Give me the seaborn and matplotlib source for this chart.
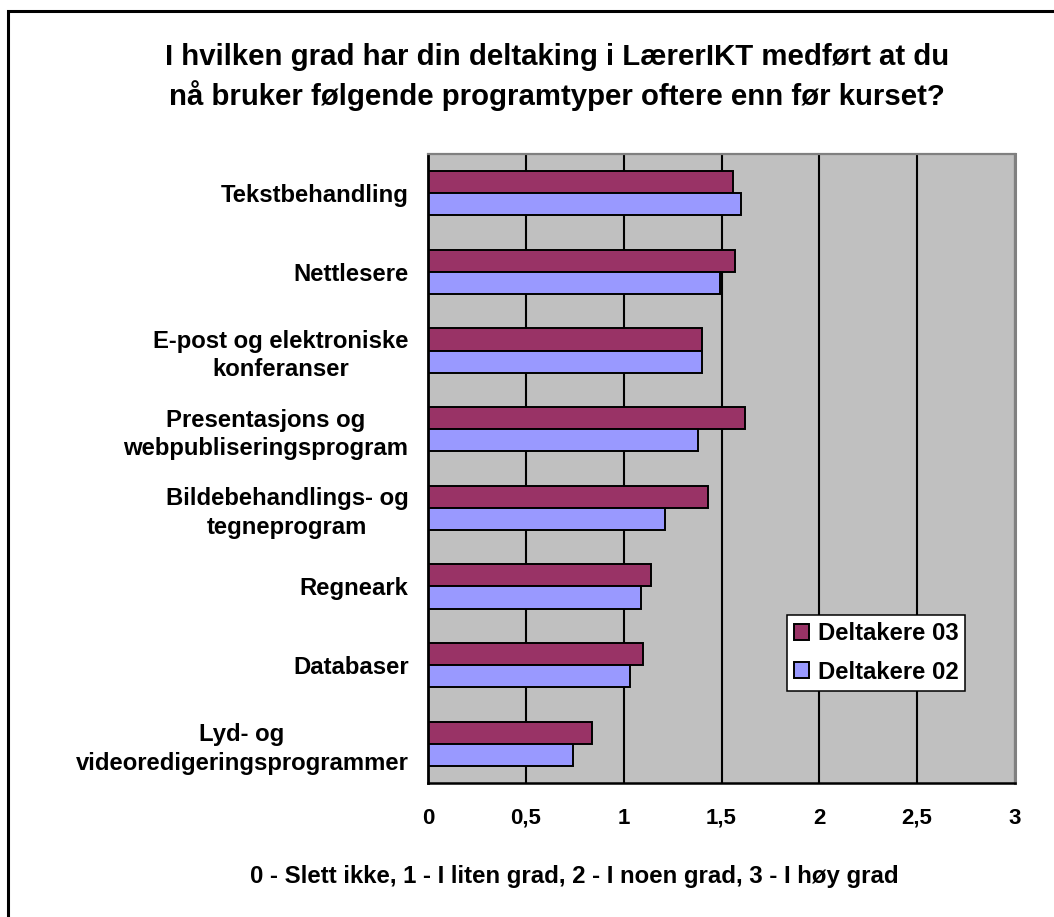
import matplotlib
matplotlib.use("Agg")
import matplotlib.pyplot as plt
from matplotlib.patches import Rectangle
from matplotlib.ticker import FixedLocator
import numpy as np
import pandas as pd
import seaborn as sns

# --- data -------------------------------------------------------------
categories = [
    "Tekstbehandling",
    "Nettlesere",
    "E-post og elektroniske\nkonferanser",
    "Presentasjons og\nwebpubliseringsprogram",
    "Bildebehandlings- og\ntegneprogram",
    "Regneark",
    "Databaser",
    "Lyd- og\nvideoredigeringsprogrammer",
]
series_names = ["Deltakere 03", "Deltakere 02"]
deltakere_03 = [1.56, 1.57, 1.40, 1.62, 1.43, 1.14, 1.10, 0.84]
deltakere_02 = [1.60, 1.49, 1.40, 1.38, 1.21, 1.09, 1.03, 0.74]
x_ticks = [0, 0.5, 1, 1.5, 2, 2.5, 3]
x_tick_labels = ["0", "0,5", "1", "1,5", "2", "2,5", "3"]

title_lines = [
    "I hvilken grad har din deltaking i LærerIKT medført at du",
    "nå bruker følgende programtyper oftere enn før kurset?",
]
x_label = "0 - Slett ikke, 1 - I liten grad, 2 - I noen grad, 3 - I høy grad"

df = pd.DataFrame({
    "kategori": categories * 2,
    "verdi": deltakere_03 + deltakere_02,
    "serie": [series_names[0]] * len(categories) + [series_names[1]] * len(categories),
})

# --- style ------------------------------------------------------------
sns.set_style("white")
plt.rcParams["font.family"] = ["Liberation Sans", "DejaVu Sans"]
plt.rcParams["font.weight"] = "bold"
plt.rcParams["text.color"] = "black"
plt.rcParams["xtick.color"] = "black"
plt.rcParams["ytick.color"] = "black"
plt.rcParams["xtick.labelcolor"] = "black"
plt.rcParams["ytick.labelcolor"] = "black"

W, H = 1054, 917
fig = plt.figure(figsize=(W / 100, H / 100), dpi=100)
fig.patch.set_facecolor("white")

left, right, top, bottom = 428, 1015, 154, 783
ax = fig.add_axes([left / W, 1 - bottom / H, (right - left) / W, (bottom - top) / H])
ax.set_facecolor("#C0C0C0")

sns.barplot(
    data=df, x="verdi", y="kategori", hue="serie",
    hue_order=series_names, order=categories,
    palette=["#993366", "#9999FF"], orient="h",
    width=0.564, saturation=1, edgecolor="black", linewidth=1.4,
    ax=ax, zorder=3,
)

# axes ranges and ticks
ax.set_xlim(0, 3)
ax.set_ylim(len(categories) - 0.5, -0.5)
ax.set_xticks(x_ticks)
ax.set_xticklabels(x_tick_labels, fontsize=16, fontweight="bold", color="black")
ax.tick_params(axis="x", direction="out", length=5.8, width=1.4, color="black",
               labelcolor="black", pad=12)

ax.yaxis.set_minor_locator(FixedLocator(np.arange(-0.5, len(categories), 1.0)))
ax.tick_params(axis="y", which="major", length=0, pad=14, labelcolor="black")
ax.tick_params(axis="y", which="minor", direction="out", length=6.5, width=1.6, color="black")
for lbl in ax.get_yticklabels():
    lbl.set_fontsize(17.2)
    lbl.set_fontweight("bold")
    lbl.set_color("black")
    lbl.set_multialignment("center")
    lbl.set_linespacing(1.3)

ax.set_xlabel("")
ax.set_ylabel("")

# vertical gridlines
ax.grid(axis="x", color="black", linewidth=1.5, zorder=1)
ax.grid(axis="y", visible=False)
ax.set_axisbelow(True)

# spines
ax.spines["left"].set_color("black")
ax.spines["left"].set_linewidth(2.0)
ax.spines["bottom"].set_color("black")
ax.spines["bottom"].set_linewidth(1.8)
ax.spines["top"].set_color("#808080")
ax.spines["top"].set_linewidth(1.6)
ax.spines["right"].set_color("#808080")
ax.spines["right"].set_linewidth(2.2)
for s in ax.spines.values():
    s.set_visible(True)
    s.set_zorder(4)

# legend
handles, labels = ax.get_legend_handles_labels()
leg = ax.legend(
    handles, labels, loc="upper left",
    bbox_to_anchor=(787 / W, 1 - 615 / H), bbox_transform=fig.transFigure,
    frameon=True, fancybox=False, framealpha=1, edgecolor="black",
    borderpad=0.3, borderaxespad=0, handlelength=0.63, handleheight=0.63,
    handletextpad=0.35, labelspacing=0.65,
    prop={"family": "Liberation Sans", "weight": "bold", "size": 17.2},
)
leg.get_frame().set_linewidth(1.1)
leg.set_zorder(6)
for t in leg.get_texts():
    t.set_color("black")
for h in leg.legend_handles:
    h.set_edgecolor("black")
    h.set_linewidth(1.4)

# title and axis caption
fig.text(557 / W, 1 - 65 / H, title_lines[0], ha="center", va="baseline",
         fontsize=21.2, fontweight="bold", color="black")
fig.text(557 / W, 1 - 105 / H, title_lines[1], ha="center", va="baseline",
         fontsize=21.2, fontweight="bold", color="black")
fig.text(574 / W, 1 - 876 / H, x_label, ha="center", va="center",
         fontsize=17.3, fontweight="bold", color="black")

# chart frame
fig.patches.append(Rectangle(
    (8 / W, -0.5), 2.0, 0.5 + 1 - 11 / H,
    transform=fig.transFigure, fill=False, edgecolor="black",
    linewidth=2.2, clip_on=False,
))

fig.savefig("out.png", dpi=100)
